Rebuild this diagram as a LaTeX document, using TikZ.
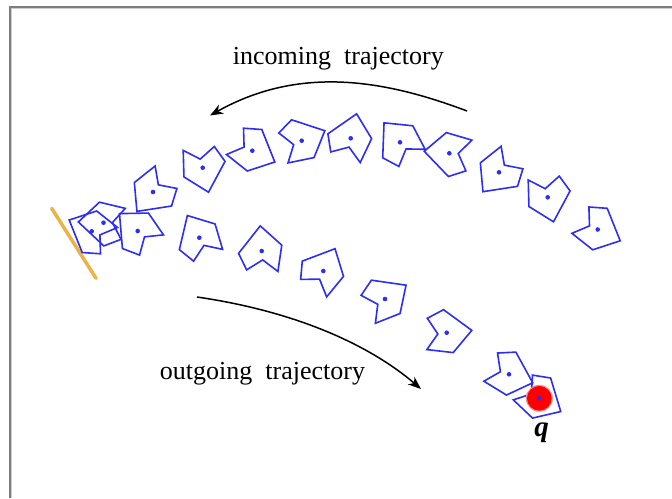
\documentclass[tikz,border=0pt]{standalone}
\usepackage{fontspec}
\setmainfont{Liberation Serif}
\usetikzlibrary{arrows.meta}
\definecolor{partblue}{RGB}{45,45,250}
\definecolor{wallorange}{RGB}{236,178,70}
\definecolor{framegray}{RGB}{125,125,125}
\definecolor{framelight}{RGB}{205,205,205}

\begin{document}
\begin{tikzpicture}[x=1pt, y=-1pt,
    part/.style={draw=partblue, line width=1.6pt, line join=miter},
    centre/.style={fill=partblue},
    traj/.style={draw, line width=1.5pt, -{Stealth[length=13pt, width=10pt, inset=4pt]}},
    caption/.style={font=\fontsize{26}{30}\selectfont, anchor=base, inner sep=0pt}]
  \useasboundingbox (0,0) rectangle (672,498);
  % frame
  \draw[framegray, line width=2pt] (9.7,498) -- (9.7,6.7) -- (672,6.7);
  \draw[framelight, line width=1.2pt] (11.3,498) -- (11.3,8.3) -- (672,8.3);
  % wall
  \draw[wallorange, line width=3.5pt, line cap=round] (51.7,208.3) -- (96,278.3);
  % parts along the trajectory
  \foreach \px/\py/\turn in {597.7/229.5/0, 547.7/197.3/50, 499/172.3/103,
      449.3/153.3/158, 400/142.3/204, 350.7/138.3/257, 301.7/140.7/310,
      252.3/150.7/0, 202.7/167.7/50, 153/192/103, 103.5/222.7/155,
      91.7/231.3/180, 137.7/231/197, 199.3/237.7/215, 261.7/251/240,
      323.3/271/271, 385/299/300, 446.7/332.7/328, 509/374.3/353,
      539.3/398.3/5}
  {
    \draw[part, shift={(\px,\py)}, rotate=-\turn]
      (-8.2,-3.6) -- (-8.8,-22.5) -- (9.5,-21.2) -- (22.5,11.3)
      -- (-5,20.3) -- (-25.8,3.8) -- cycle;
  }
  % goal
  \fill[red!45] (539.3,398.3) circle (13.5pt);
  \fill[red] (539.3,398.3) circle (12.3pt);
  \foreach \px/\py in {597.7/229.5, 547.7/197.3, 499/172.3, 449.3/153.3,
      400/142.3, 350.7/138.3, 301.7/140.7, 252.3/150.7, 202.7/167.7,
      153/192, 103.5/222.7, 91.7/231.3, 137.7/231, 199.3/237.7,
      261.7/251, 323.3/271, 385/299, 446.7/332.7, 509/374.3, 539.3/398.3}
    \fill[centre] (\px,\py) circle (2.3pt);
  % trajectories
  \coordinate (in-from) at (467,111);
  \coordinate (in-to) at (210,115.5);
  \draw[traj] (in-from) .. controls (385,80) and (300,65) .. (in-to);
  \coordinate (out-from) at (197,297);
  \coordinate (out-to) at (421,389);
  \draw[traj] (out-from) .. controls (300,312) and (372,347) .. (out-to);
  \node[caption] (incoming) at (338.3,64) {incoming\ \ trajectory};
  \node[caption] (outgoing) at (262.5,379.3) {outgoing\ \ trajectory};
  \node[caption, font=\fontsize{29}{32}\selectfont\bfseries\itshape] (q) at (541.7,436.7) {q};
\end{tikzpicture}
\end{document}
